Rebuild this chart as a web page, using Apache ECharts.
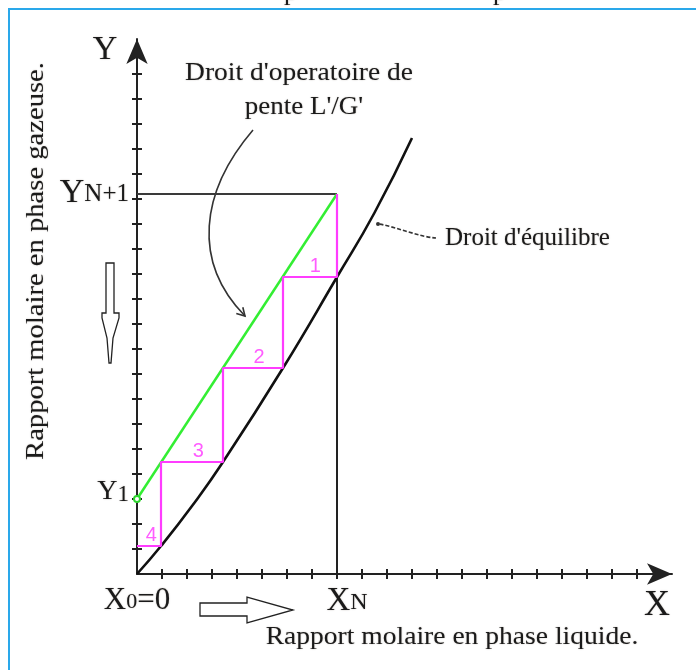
<!DOCTYPE html>
<html>
<head>
<meta charset="utf-8">
<script src="https://cdn.jsdelivr.net/npm/echarts@6/dist/echarts.min.js"></script>
<style>
html,body{margin:0;padding:0;background:#fff;}
#main{width:696px;height:670px;}
</style>
</head>
<body>
<div id="main"></div>
<script>
// ---- data (axis units: one tick = 1) ----
const tickValues = [1, 2, 3, 4, 5, 6, 7, 8, 9, 10, 11, 12, 13, 14, 15, 16, 17, 18, 19, 20];
const XN = 8;
const Y1 = 3;
const YN1 = 15.2;
// equilibrium curve
const eqX = [0, 0.96, 2.2, 3.44, 5.84, 8, 9.5, 11];
const eqY = [0, 1.12, 2.72, 4.48, 8.24, 11.88, 14.45, 17.44];
// operating line
const opX = [0, XN];
const opY = [Y1, YN1];
// stage construction (corners)
const stepX = [8, 5.84, 3.44, 0.96, 0];
const stepY = [15.2, 11.88, 8.24, 4.48, 1.12];
const stepLabels = ['1', '2', '3', '4'];
// axis marks
const xMarks = [0, XN];
const xMarkLabels = [{main: 'X', sub: '0', tail: '=0'}, {main: 'X', sub: 'N', tail: ''}];
const yMarks = [Y1, YN1];
const yMarkLabels = [{main: 'Y', sub: '1'}, {main: 'Y', sub: 'N+1'}];

const AXMAX = 21.4;
const serif = 'Liberation Serif';
const ink = '#1a1a1a';
const shadow = {textShadowColor: 'rgba(60,40,20,0.35)', textShadowBlur: 1.5};

const eqData = eqX.map((x, i) => [x, eqY[i]]);
const opData = opX.map((x, i) => i === 0 ? {value: [x, opY[i]], symbolSize: 6} : {value: [x, opY[i]], symbolSize: 0});
const stepData = [[stepX[0], stepY[0]]];
for (let i = 1; i < stepY.length; i++) {
  stepData.push([stepX[i - 1], stepY[i]]);
  stepData.push([stepX[i], stepY[i]]);
}
const stepLabelData = stepLabels.map((t, k) => {
  const i = k + 1;
  return {value: [stepX[i] + 0.6 * (stepX[i - 1] - stepX[i]), stepY[i]], name: t};
});

const axisLineStyle = {color: '#222', width: 2};
function baseAxis(pos, withLine, inside) {
  return {
    type: 'value', min: 0, max: AXMAX, position: pos,
    axisLine: withLine ? {show: true, onZero: false, lineStyle: axisLineStyle, symbol: ['none', 'arrow'], symbolSize: [16, 25]} : {show: false, onZero: false},
    axisTick: {show: true, inside: inside, length: 5, customValues: tickValues, lineStyle: {color: '#222', width: 2}},
    splitLine: {show: false},
    axisLabel: {show: false}
  };
}

const xMain = baseAxis('bottom', true, false);
xMain.axisLabel = {
  show: true, customValues: xMarks, margin: 11,
  formatter: function (v) {
    const i = xMarks.indexOf(v);
    const l = xMarkLabels[i];
    if (i === 1) return '{p|}{B|' + l.main + '}{S|' + l.sub + '}';
    return '{b|' + l.main + '}{s|' + l.sub + '}' + (l.tail ? '{b|' + l.tail + '}' : '');
  },
  rich: {
    b: Object.assign({fontFamily: serif, fontSize: 31, color: ink, padding: [0, 0, 3, 0]}, shadow),
    s: Object.assign({fontFamily: serif, fontSize: 22, color: ink}, shadow),
    B: Object.assign({fontFamily: serif, fontSize: 33, color: ink, padding: [0, 0, 3, 0]}, shadow),
    S: Object.assign({fontFamily: serif, fontSize: 24, color: ink}, shadow),
    p: {width: 20}
  }
};
const yMain = baseAxis('left', true, false);
yMain.axisLabel = {
  show: true, customValues: yMarks, margin: 8,
  formatter: function (v) {
    const i = yMarks.indexOf(v);
    const l = yMarkLabels[i];
    return i === 0 ? '{m|' + l.main + '}{s1|' + l.sub + '}' : '{b|' + l.main + '}{s|' + l.sub + '}';
  },
  rich: {
    b: Object.assign({fontFamily: serif, fontSize: 34, color: ink, padding: [0, 0, 2, 0]}, shadow),
    s: Object.assign({fontFamily: serif, fontSize: 25, color: ink}, shadow),
    m: Object.assign({fontFamily: serif, fontSize: 28, color: ink, padding: [0, 0, 14, 0]}, shadow),
    s1: Object.assign({fontFamily: serif, fontSize: 23, color: ink, padding: [0, 0, 8, 0]}, shadow)
  }
};

function txt(text, size, extra) {
  return Object.assign({text: text, font: size + 'px "Liberation Serif"', fill: ink}, shadow, extra || {});
}

const option = {
  animation: false,
  backgroundColor: '#fff',
  grid: {left: 137, top: 574 - AXMAX * 25, width: AXMAX * 25, height: AXMAX * 25, containLabel: false},
  xAxis: [xMain, baseAxis('bottom', false, true)],
  yAxis: [yMain, baseAxis('left', false, true)],
  series: [
    {type: 'line', data: [[0, YN1], [XN, YN1]], symbol: 'none', lineStyle: {color: '#3a3a3a', width: 2}, z: 2},
    {type: 'line', data: [[XN, 0], [XN, YN1]], symbol: 'none', lineStyle: {color: '#222', width: 2}, z: 2},
    {type: 'line', data: eqData, smooth: 0.5, symbol: 'none', lineStyle: {color: '#111', width: 2.6}, z: 3},
    {type: 'line', data: opData, symbol: 'emptyCircle', showSymbol: true, itemStyle: {color: '#2fd62f', borderWidth: 1.5}, lineStyle: {color: '#33ee33', width: 2.5}, z: 4},
    {type: 'line', data: stepData, symbol: 'none', lineStyle: {color: '#ff3cff', width: 2.2}, z: 5},
    {type: 'scatter', data: stepLabelData, symbolSize: 0, z: 6,
      label: {show: true, position: 'top', distance: 1, formatter: '{b}', color: '#ff33ff', fontFamily: 'Liberation Sans', fontSize: 20}}
  ],
  graphic: [
    // frame
    {type: 'polyline', shape: {points: [[9, 670], [9, 9], [696, 9]]}, style: {stroke: '#2aa8ea', lineWidth: 2, fill: null}},
    // cut-off text at top
    {type: 'text', x: 284, y: 6, style: txt('p', 26, {verticalAlign: 'bottom'})},
    {type: 'text', x: 493, y: 6, style: txt('p', 26, {verticalAlign: 'bottom'})},
    // axis names
    {type: 'text', x: 105, y: 50, style: txt('Y', 34, {align: 'center', verticalAlign: 'middle'})},
    {type: 'text', x: 657, y: 606, style: txt('X', 36, {align: 'center', verticalAlign: 'middle'})},
    // annotations
    {type: 'text', x: 299, y: 73, scaleX: 1.1, style: txt("Droit d'operatoire de", 25, {align: 'center', verticalAlign: 'middle'})},
    {type: 'text', x: 304, y: 107, scaleX: 1.08, style: txt("pente L'/G'", 25, {align: 'center', verticalAlign: 'middle'})},
    {type: 'text', x: 445, y: 238, style: txt("Droit d'équilibre", 25, {align: 'left', verticalAlign: 'middle'})},
    {type: 'text', x: 452, y: 637, scaleX: 1.06, style: txt('Rapport molaire en phase liquide.', 26, {align: 'center', verticalAlign: 'middle'})},
    {type: 'text', x: 36, y: 261, rotation: Math.PI / 2, scaleX: 1.1, style: txt('Rapport molaire en phase gazeuse.', 26, {align: 'center', verticalAlign: 'middle'})},
    // curved arrow to operating line
    {type: 'bezierCurve', shape: {x1: 253, y1: 130, x2: 245, y2: 316, cpx1: 200, cpy1: 192, cpx2: 192, cpy2: 262}, style: {stroke: '#333', lineWidth: 1.6, fill: null}},
    {type: 'polyline', shape: {points: [[242.8, 307.3], [245, 316], [236.3, 313.6]]}, style: {stroke: '#333', lineWidth: 1.6, fill: null}},
    // dashed pointer to equilibrium curve
    {type: 'bezierCurve', shape: {x1: 436, y1: 238, x2: 379, y2: 224, cpx1: 420, cpy1: 237, cpx2: 396, cpy2: 227}, style: {stroke: '#333', lineWidth: 1.6, lineDash: [4, 2], fill: null}},
    {type: 'circle', shape: {cx: 378, cy: 224, r: 2}, style: {fill: '#333'}},
    // hollow arrows
    {type: 'polygon', shape: {points: [[106, 263], [114, 263], [114, 313], [119, 313], [119, 318], [113, 338], [111, 363], [109, 363], [107, 338], [102, 318], [102, 313], [106, 313]]}, style: {fill: '#fff', stroke: '#222', lineWidth: 1.3}},
    {type: 'polygon', shape: {points: [[200, 603], [247, 603], [247, 597], [293, 610], [247, 623], [247, 616], [200, 616]]}, style: {fill: '#fff', stroke: '#222', lineWidth: 1.3}}
  ]
};

const chart = echarts.init(document.getElementById('main'), null, {renderer: 'canvas'});
chart.setOption(option);
</script>
</body>
</html>
